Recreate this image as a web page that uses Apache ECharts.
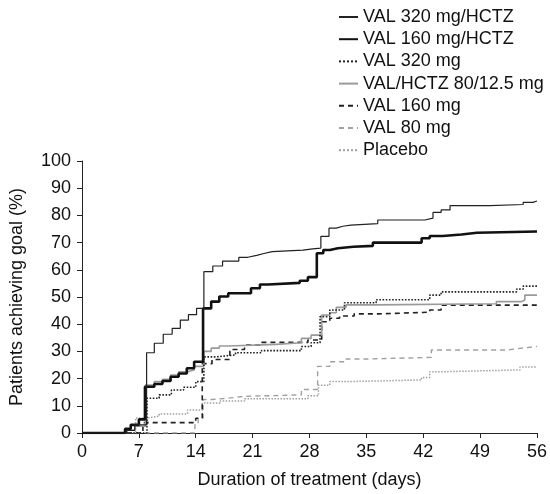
<!DOCTYPE html>
<html>
<head>
<meta charset="utf-8">
<script src="https://cdn.jsdelivr.net/npm/echarts@6/dist/echarts.min.js"></script>
<style>html,body{margin:0;padding:0;background:#fff}#c{width:550px;height:494px}</style>
</head>
<body>
<div id="c"></div>
<script>
var seriesNames = ['VAL 320 mg/HCTZ','VAL 160 mg/HCTZ','VAL 320 mg','VAL/HCTZ 80/12.5 mg','VAL 160 mg','VAL 80 mg','Placebo'];
var xTicks = [0,7,14,21,28,35,42,49,56];
var yTicks = [0,10,20,30,40,50,60,70,80,90,100];

var v320hDays = [0,5.5,6.5,7.95,8.9,10.0,11.1,12.1,13.1,14.1,15.0,16.1,17.3,19.3,20.4,21.5,22.4,23.4,27.2,28.4,29.4,30.4,31.3,32.1,33.1,36.4,42.2,43.2,44.2,45.3,50.2,54.3,55.5,56];
var v320hVals = [0,1,3,29.5,33,36.3,38.5,41.5,43.5,45.8,59.3,61.4,63.2,64.6,65.3,66,66.7,67.2,67.7,68,72.3,75.3,76,76.4,77,78.3,79,81.1,82,83.6,84,84.8,85.3,85.3];

var v160hDays = [0,5.3,6.0,7.0,7.75,8.9,9.9,10.9,11.9,12.9,13.8,14.9,15.9,16.9,18.0,20.8,21.9,22.9,26.8,27.8,28.9,29.7,30.5,31.5,33.4,35.8,41.8,42.8,44.4,46.7,48.6,56];
var v160hVals = [0,1.5,3,5,17,18,19.1,20.7,21.9,23.8,26.2,45.8,48.3,50.2,51.4,53.2,54.6,55.2,56,57.3,66.1,67.3,67.9,68.5,68.8,70,71.6,72.4,73,73.6,74.1,74.1];

var v320Days = [0,8.0,9.5,11.0,12.5,14.0,15.0,16.5,18.9,22.1,27.0,28.2,29.3,30.5,32.3,36.2,42.8,44.2,53.5,54.3,56];
var v320Vals = [0,12.8,14,15.8,16.8,18.9,28,28.7,29.5,30.3,31.8,33.2,42.8,45.2,47.9,49,50.7,51.9,52.9,54,54];

var v80hDays = [0,5.5,6.5,7.8,8.9,9.9,10.9,11.9,13.0,13.8,15.0,15.9,16.9,18.0,23.9,27.0,28.2,29.5,30.5,31.3,32.5,36.0,51.0,54.1,54.5,56];
var v80hVals = [0,1,2.5,17.6,18.9,19.7,21.3,22.5,23.2,24.5,30,31.2,32,32.6,33.2,34.8,36,43.4,44.2,46.2,47.1,47.5,48.3,48.9,50.7,50.7];

var v160Days = [0,7.5,14.0,14.8,16.0,18.2,20.0,22.0,27.8,29.5,30.5,31.7,33.5,36.5,42.8,44.2,56];
var v160Vals = [0,3.8,5.4,25.5,27,30.7,32.3,33.3,34.2,40.9,42.2,43,43.8,44.4,45.2,47,47];

var v80Days = [0,13.9,14.3,14.9,16.0,18.0,20.0,27.0,29.0,30.5,32.5,35.0,43.0,52.3,53.9,56];
var v80Vals = [0,3,5.4,12.3,12.8,13.5,14,16,24.5,26.2,27.2,27.8,30.5,31.1,31.8,31.8];

var plDays = [0,6.6,8.0,9.5,13.0,14.8,17.0,20.0,27.8,29.1,30.5,32.5,36.0,41.8,42.8,44.2,53.9,56];
var plVals = [0,5.5,6.2,7,8.5,11,11.8,12.6,13.7,17.6,18.9,19.1,19.5,20.4,22.5,23.2,24.3,24.3];

function pairs(d, v){ return d.map(function(x,i){ return [x, v[i]]; }); }

var styles = [
  {color:'#222', width:1.2, type:'solid'},
  {color:'#111', width:2.6, type:'solid'},
  {color:'#222', width:1.6, type:'dotted'},
  {color:'#9a9a9a', width:1.6, type:'solid'},
  {color:'#222', width:1.6, type:[5,4]},
  {color:'#a0a0a0', width:1.4, type:[5,4]},
  {color:'#a0a0a0', width:1.5, type:'dotted'}
];
var dataSets = [pairs(v320hDays,v320hVals), pairs(v160hDays,v160hVals), pairs(v320Days,v320Vals),
  pairs(v80hDays,v80hVals), pairs(v160Days,v160Vals), pairs(v80Days,v80Vals), pairs(plDays,plVals)];

var font = 'Liberation Sans, Arial, Helvetica, sans-serif';
var order = [6,5,4,3,2,1,0];
var series = order.map(function(i){
  return {
    name: seriesNames[i], type:'line', step:'end', symbol:'none', showSymbol:false, data: dataSets[i],
    lineStyle:{color:styles[i].color, width:styles[i].width, type:styles[i].type},
    itemStyle:{color:styles[i].color}, animation:false, silent:true, z: 10 - i
  };
});

var chart = echarts.init(document.getElementById('c'), null, {renderer:'canvas'});
chart.setOption({
  backgroundColor:'#fff',
  animation:false,
  textStyle:{fontFamily:font},
  grid:{left:82, right:13, top:161, bottom:61, containLabel:false},
  legend:{
    data: seriesNames, orient:'vertical', left:333, top:3,
    itemWidth:19, itemHeight:14, itemGap:4.2,
    itemStyle:{opacity:0},
    textStyle:{fontFamily:font, fontSize:18, color:'#111', lineHeight:18},
    selectedMode:false
  },
  xAxis:{
    type:'value', min:0, max:56, interval:7,
    name:'Duration of treatment (days)', nameLocation:'middle', nameGap:38,
    nameTextStyle:{fontFamily:font, fontSize:18, color:'#111'},
    axisLine:{show:true, lineStyle:{color:'#222', width:1}},
    axisTick:{show:true, length:5, lineStyle:{color:'#222'}},
    axisLabel:{fontFamily:font, fontSize:18, color:'#111', margin:10},
    splitLine:{show:false}
  },
  yAxis:{
    type:'value', min:0, max:100, interval:10,
    name:'Patients achieving goal (%)', nameLocation:'middle', nameGap:56,
    nameTextStyle:{fontFamily:font, fontSize:18, color:'#111'},
    axisLine:{show:true, lineStyle:{color:'#222', width:1}},
    axisTick:{show:true, length:5, lineStyle:{color:'#222'}},
    axisLabel:{fontFamily:font, fontSize:18, color:'#111', margin:11},
    splitLine:{show:false}
  },
  series: series
});
</script>
</body>
</html>
